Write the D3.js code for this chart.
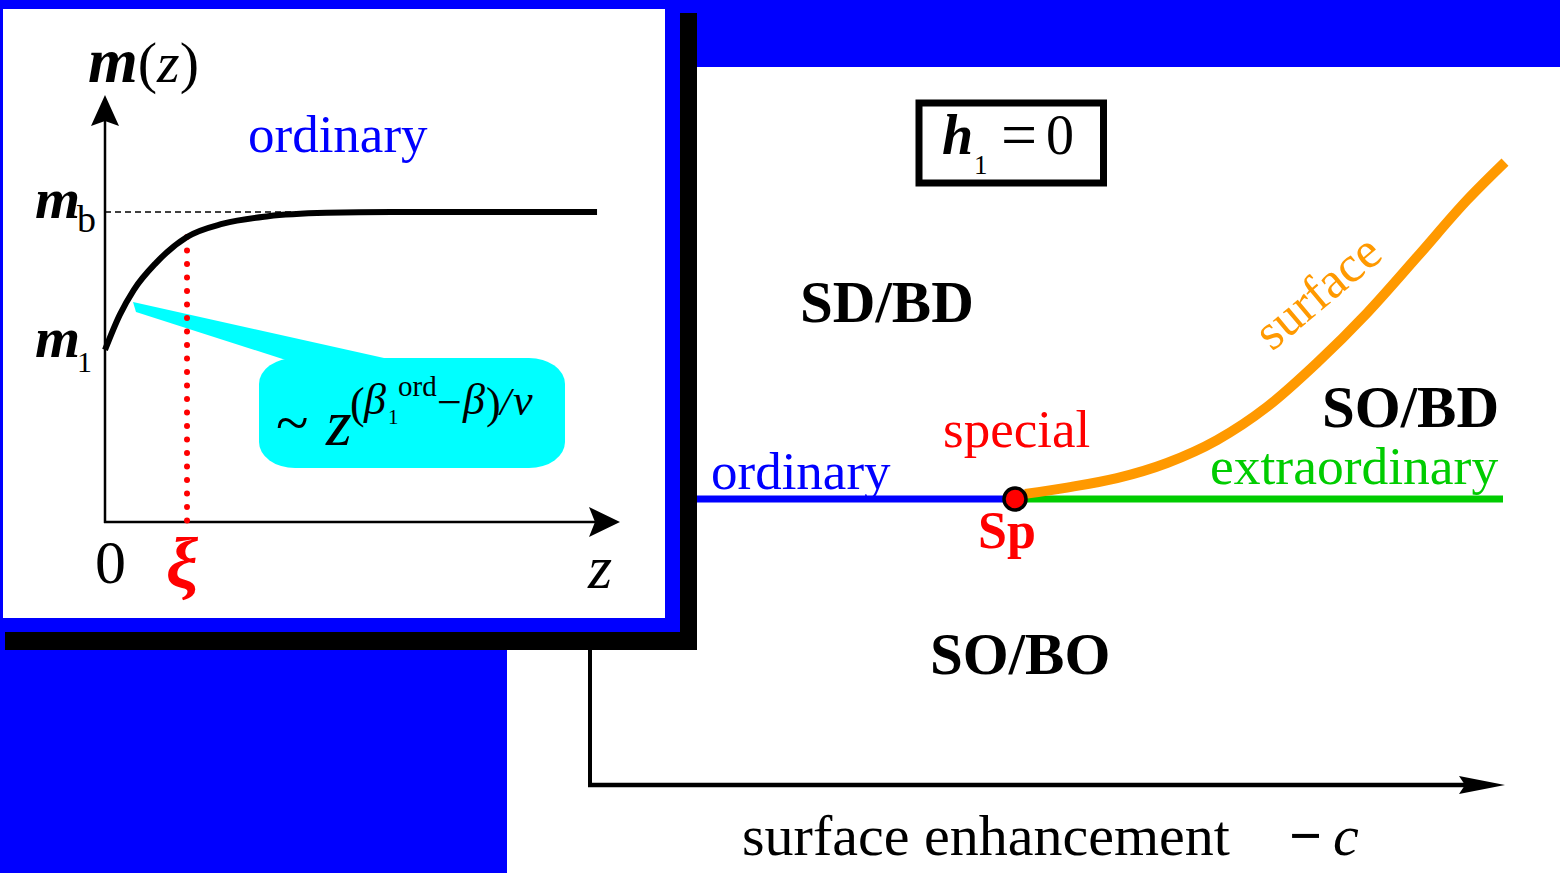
<!DOCTYPE html>
<html>
<head>
<meta charset="utf-8">
<script src="https://cdn.jsdelivr.net/npm/d3@7"></script>
<style>
html,body{margin:0;padding:0;background:#0000ff;overflow:hidden;}
svg{display:block;}
text{font-family:"Liberation Serif","Times New Roman",serif;}
</style>
</head>
<body>
<svg id="chart" width="1560" height="873"></svg>
<script>
// ---------- DATA ----------
// Inset: magnetisation profile m(z) at the ordinary transition (z in units of xi, m in units of m_b)
const profileZ = [0, 0.18, 0.35, 0.62, 1.0, 1.44, 1.99, 2.7, 3.5, 6.0];
const profileM = [0.555, 0.668, 0.748, 0.835, 0.919, 0.962, 0.986, 0.997, 1.0, 1.0];
const xiValue = 1.0;          // correlation length marker
const mBulk = 1.0;            // m_b
const mSurface = 0.555;       // m_1

// Main diagram: phase boundaries in (-c, T) plane, T in units of Tc
const ordinaryC = [-4.25, 0];          // ordinary transition line (T = Tc)
const extraordinaryC = [0, 4.88];      // extraordinary transition line (T = Tc)
const bulkT = 1.0;
const specialPoint = {c: 0, T: 1.0, label: "Sp"};
const surfaceC = [0.1, 0.52, 1.02, 1.52, 2.02, 2.52, 3.02, 3.52, 4.02, 4.52, 4.90];
const surfaceT = [1.018, 1.040, 1.073, 1.126, 1.206, 1.322, 1.476, 1.650, 1.846, 2.045, 2.178];

const regionLabels = ["SD/BD", "SO/BD", "SO/BO"];
const lineLabels = ["ordinary", "special", "extraordinary", "surface"];

// ---------- SETUP ----------
const svg = d3.select("#chart");
const BLUE = "#0000ff", CYAN = "#00ffff", RED = "#ff0000", GREEN = "#00cc00", ORANGE = "#ff9900";

svg.append("rect").attr("x",0).attr("y",0).attr("width",1560).attr("height",873).attr("fill",BLUE);
svg.append("rect").attr("x",507).attr("y",67).attr("width",1053).attr("height",806).attr("fill","#fff");

// ---------- MAIN DIAGRAM ----------
const cx = d3.scaleLinear().domain([-4.25, 4.9]).range([590, 1505]);
const ty = d3.scaleLinear().domain([0, 1]).range([785, 499]);

const main = svg.append("g");
// axes
main.append("line").attr("x1",cx(-4.25)).attr("x2",cx(-4.25)).attr("y1",ty(0)).attr("y2",100)
  .attr("stroke","#000").attr("stroke-width",4);
main.append("line").attr("x1",cx(-4.25)-2).attr("x2",cx(4.9)-30).attr("y1",ty(0)).attr("y2",ty(0))
  .attr("stroke","#000").attr("stroke-width",4.5);
main.append("path")
  .attr("d",`M${cx(4.9)},${ty(0)} L${cx(4.9)-46},${ty(0)-9} L${cx(4.9)-40},${ty(0)} L${cx(4.9)-46},${ty(0)+9} Z`)
  .attr("fill","#000");

// bulk transition lines
main.append("line").attr("x1",cx(ordinaryC[0])).attr("x2",cx(ordinaryC[1])).attr("y1",ty(bulkT)).attr("y2",ty(bulkT))
  .attr("stroke",BLUE).attr("stroke-width",7);
main.append("line").attr("x1",cx(extraordinaryC[0])).attr("x2",cx(extraordinaryC[1])).attr("y1",ty(bulkT)).attr("y2",ty(bulkT))
  .attr("stroke",GREEN).attr("stroke-width",7);

// surface transition line
const surfLine = d3.line().x((d,i)=>cx(surfaceC[i])).y((d,i)=>ty(surfaceT[i])).curve(d3.curveMonotoneX);
main.append("path").datum(surfaceC).attr("d",surfLine)
  .attr("fill","none").attr("stroke",ORANGE).attr("stroke-width",10);

// special point
main.append("circle").attr("cx",cx(specialPoint.c)).attr("cy",ty(specialPoint.T)).attr("r",11)
  .attr("fill",RED).attr("stroke","#000").attr("stroke-width",3.5);

// labels
function txt(g, x, y, s, opts={}) {
  const t = g.append("text").attr("x",x).attr("y",y).text(s)
    .attr("font-size",opts.size||52).attr("fill",opts.fill||"#000");
  if (opts.bold) t.attr("font-weight","bold");
  if (opts.italic) t.attr("font-style","italic");
  if (opts.anchor) t.attr("text-anchor",opts.anchor);
  if (opts.transform) t.attr("transform",opts.transform);
  return t;
}
txt(main, 800, 322, regionLabels[0], {size:59, bold:true});
txt(main, 1322, 427, regionLabels[1], {size:59, bold:true});
txt(main, 930, 674, regionLabels[2], {size:59, bold:true});
txt(main, 711, 489, lineLabels[0], {size:53, fill:BLUE});
txt(main, 943, 447, lineLabels[1], {size:53, fill:RED});
txt(main, 1210, 484, lineLabels[2], {size:53.5, fill:GREEN});
txt(main, 978, 548, specialPoint.label, {size:52, bold:true, fill:RED});
txt(main, 0, 0, lineLabels[3], {size:51, fill:ORANGE, transform:"translate(1272,352) rotate(-40)"});

// h1 = 0 box
main.append("rect").attr("x",919).attr("y",103).attr("width",184.5).attr("height",80)
  .attr("fill","#fff").attr("stroke","#000").attr("stroke-width",7);
txt(main, 942, 154, "h", {size:56, bold:true, italic:true});
txt(main, 974, 174, "1", {size:27});
txt(main, 1001, 156, "=", {size:64});
txt(main, 1046, 154, "0", {size:56});

// x-axis title
txt(main, 742, 855, "surface enhancement", {size:58});
txt(main, 1289, 855, "\u2212", {size:58, bold:true});
txt(main, 1333, 855, "c", {size:58, italic:true});

// ---------- INSET ----------
const inset = svg.append("g");
inset.append("rect").attr("x",5).attr("y",13).attr("width",692).attr("height",637).attr("fill","#000");
inset.append("rect").attr("x",0).attr("y",0).attr("width",680).attr("height",632).attr("fill",BLUE);
inset.append("rect").attr("x",3).attr("y",9).attr("width",662).attr("height",609).attr("fill","#fff");

const zx = d3.scaleLinear().domain([0, 6.28]).range([105, 620]);
const my = d3.scaleLinear().domain([0, 1.377]).range([522, 95]);

// callout bubble
const bubble = inset.append("g").attr("fill",CYAN);
bubble.append("path").attr("d","M133,302 L384,358 L292,362 L136,312 Z");
bubble.append("rect").attr("x",259).attr("y",358).attr("width",306).attr("height",110)
  .attr("rx",36).attr("ry",26);

// axes
inset.append("line").attr("x1",zx(0)).attr("x2",zx(0)).attr("y1",my(0)+1).attr("y2",my(1.377)+20)
  .attr("stroke","#000").attr("stroke-width",2.5);
inset.append("path")
  .attr("d",`M${zx(0)},${my(1.377)} L${zx(0)-14},${my(1.377)+31} L${zx(0)},${my(1.377)+26} L${zx(0)+14},${my(1.377)+31} Z`)
  .attr("fill","#000");
inset.append("line").attr("x1",zx(0)-1).attr("x2",zx(6.28)-20).attr("y1",my(0)).attr("y2",my(0))
  .attr("stroke","#000").attr("stroke-width",2.5);
inset.append("path")
  .attr("d",`M${zx(6.28)},${my(0)} L${zx(6.28)-31},${my(0)-15} L${zx(6.28)-25},${my(0)} L${zx(6.28)-31},${my(0)+15} Z`)
  .attr("fill","#000");

// bulk value dashed line
inset.append("line").attr("x1",zx(0)).attr("x2",zx(2.5)).attr("y1",my(mBulk)).attr("y2",my(mBulk))
  .attr("stroke","#000").attr("stroke-width",1.5).attr("stroke-dasharray","6,4");

// xi dotted line
inset.append("line").attr("x1",zx(xiValue)).attr("x2",zx(xiValue)).attr("y1",my(0.919)).attr("y2",my(0)+12)
  .attr("stroke",RED).attr("stroke-width",6).attr("stroke-linecap","round").attr("stroke-dasharray","0,13.5");

// profile curve
const prof = d3.line().x((d,i)=>zx(profileZ[i])).y((d,i)=>my(profileM[i])).curve(d3.curveMonotoneX);
inset.append("path").datum(profileZ).attr("d",prof)
  .attr("fill","none").attr("stroke","#000").attr("stroke-width",6);

// inset labels
const mz = inset.append("text").attr("x",88).attr("y",82).attr("font-size",58);
mz.append("tspan").attr("font-weight","bold").attr("font-style","italic").attr("font-size",64).text("m");
mz.append("tspan").text("(");
mz.append("tspan").attr("font-style","italic").text("z");
mz.append("tspan").text(")");

txt(inset, 35, 218, "m", {size:58, bold:true, italic:true});
txt(inset, 77, 232, "b", {size:38});
txt(inset, 35, 357, "m", {size:58, bold:true, italic:true});
txt(inset, 77, 372, "1", {size:30});

txt(inset, 248, 152, "ordinary", {size:53, fill:BLUE});
txt(inset, 95, 583, "0", {size:62});
txt(inset, 166, 588, "\u03BE", {size:72, italic:true, bold:true, fill:RED});
txt(inset, 588, 588, "z", {size:62, italic:true});

// formula  ~ z^{(beta_1^ord - beta)/nu}
txt(inset, 276, 443, "~", {size:60});
txt(inset, 326, 445, "z", {size:66, italic:true});
txt(inset, 350, 418, "(", {size:44});
txt(inset, 364, 414, "\u03B2", {size:44, italic:true});
txt(inset, 388, 424, "1", {size:21});
txt(inset, 398, 396, "ord", {size:29});
txt(inset, 437, 417, "\u2212", {size:44});
txt(inset, 463, 414, "\u03B2", {size:44, italic:true});
txt(inset, 486, 418, ")", {size:44});
txt(inset, 500, 415, "/", {size:40, italic:true});
txt(inset, 513, 415, "\u03BD", {size:44, italic:true});
</script>
</body>
</html>
